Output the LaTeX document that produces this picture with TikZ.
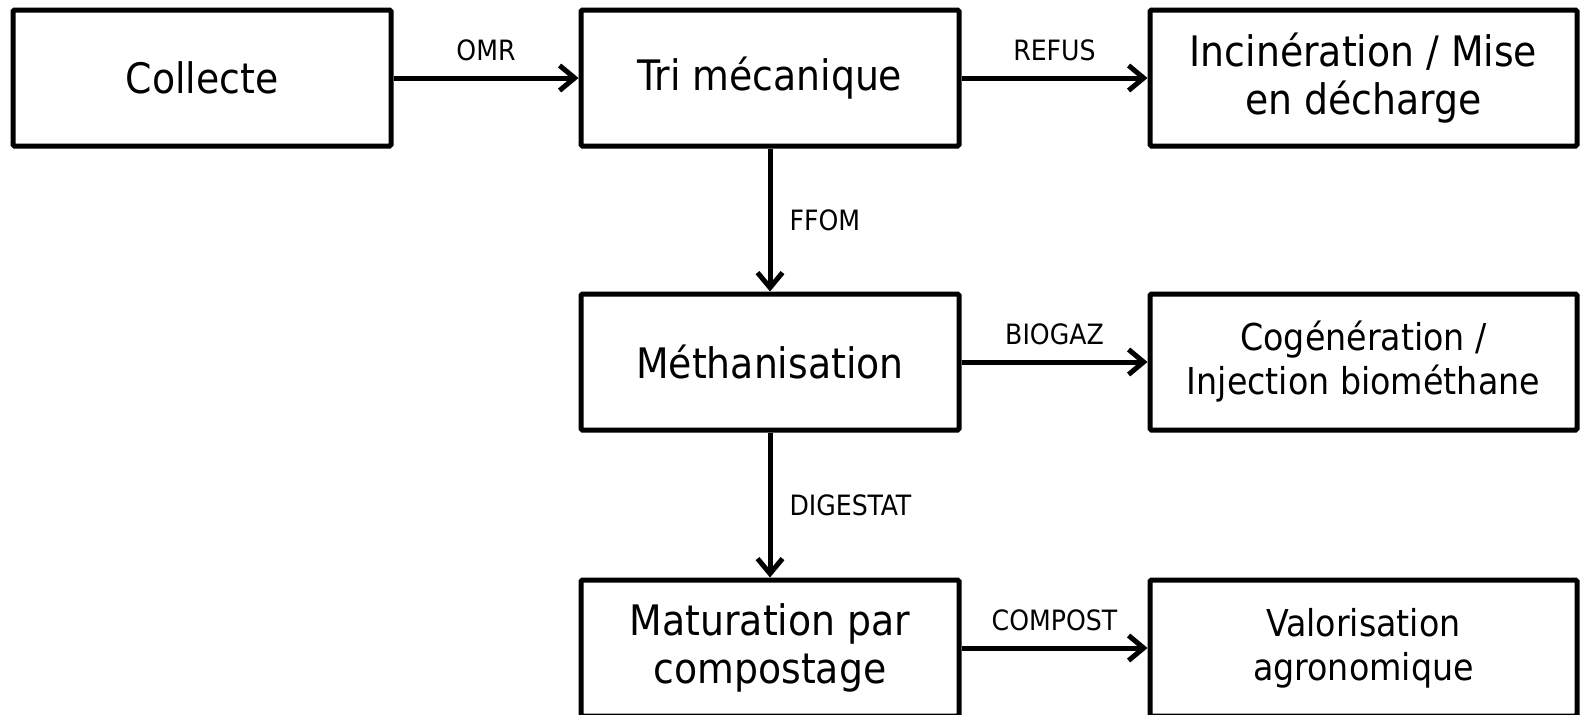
\documentclass[tikz,border=0pt]{standalone}
\usepackage{fontspec}
\setmainfont{DejaVu Sans Condensed}
\usetikzlibrary{arrows.meta}
\begin{document}
\begin{tikzpicture}[x=1pt,y=-1pt,
  box/.style={draw=black, line width=5pt, rounded corners=1.5pt, minimum width=#1, minimum height=136pt, inner sep=0pt, align=center,
    font=\fontsize{42}{48}\selectfont},
  box/.default=378pt,
  smalltext/.style={font=\fontsize{37}{44}\selectfont},
  flow/.style={line width=5pt, -{Straight Barb[length=15pt,width=25pt,line width=5pt]}},
  lab/.style={font=\fontsize{28}{32}\selectfont, inner sep=0pt}]
\useasboundingbox (0,0) rectangle (1580,715);
\node[box] (col) at (202,78) {Collecte};
\node[box] (tri) at (770,78) {Tri mécanique};
\node[box=427pt] (inc) at (1363.5,78) {Incinération / Mise\\en décharge};
\node[box] (met) at (770,362) {Méthanisation};
\node[box=427pt, smalltext] (cog) at (1363.5,362) {Cogénération /\\Injection biométhane};
\node[box] (mat) at (770,648) {Maturation par\\compostage};
\node[box=427pt, smalltext] (val) at (1363.5,648) {Valorisation\\agronomique};
\draw[flow] (col) -- node[lab, above=15pt] {OMR} (tri);
\draw[flow] (tri) -- node[lab, above=15pt] {REFUS} (inc);
\draw[flow] (met) -- node[lab, above=15pt] {BIOGAZ} (cog);
\draw[flow] (mat) -- node[lab, above=15pt] {COMPOST} (val);
\draw[flow] (tri) -- node[lab, right=17pt] {FFOM} (met);
\draw[flow] (met) -- node[lab, right=17pt] {DIGESTAT} (mat);
\end{tikzpicture}
\end{document}
